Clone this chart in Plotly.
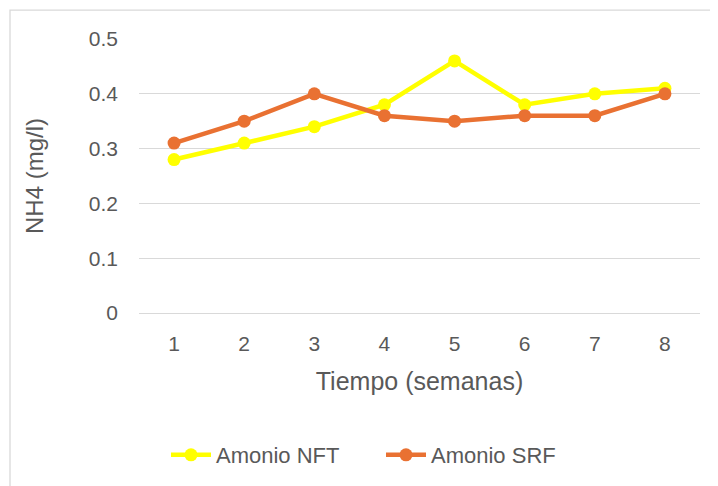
import plotly.graph_objects as go

semanas = ["1", "2", "3", "4", "5", "6", "7", "8"]
amonio_nft = [0.28, 0.31, 0.34, 0.38, 0.46, 0.38, 0.40, 0.41]
amonio_srf = [0.31, 0.35, 0.40, 0.36, 0.35, 0.36, 0.36, 0.40]
y_ticks = [0, 0.1, 0.2, 0.3, 0.4, 0.5]
y_tick_text = ["0", "0.1", "0.2", "0.3", "0.4", "0.5"]

# page body has an 8px margin, so the figure is 8px smaller and offset
W, H = 710, 478
L, R, T, B = 131, 18, 31, 172
pw, ph = W - L - R, H - T - B

fig = go.Figure()
fig.add_trace(go.Scatter(x=semanas, y=amonio_nft, name="Amonio NFT", mode="lines+markers",
                         line=dict(color="#FFFF00", width=4.5),
                         marker=dict(color="#FFFF00", size=13)))
fig.add_trace(go.Scatter(x=semanas, y=amonio_srf, name="Amonio SRF", mode="lines+markers",
                         line=dict(color="#E97132", width=4.5),
                         marker=dict(color="#E97132", size=13)))

font_color = "#595959"
fig.update_layout(
    width=W, height=H,
    margin=dict(l=L, r=R, t=T, b=B),
    paper_bgcolor="white", plot_bgcolor="white",
    font=dict(family="Liberation Sans, Arial, sans-serif", size=21, color=font_color),
    showlegend=True,
    legend=dict(orientation="h", x=(373 - L) / pw, xanchor="center",
                y=-(447 - (T + ph)) / ph, yanchor="middle",
                font=dict(size=22, color=font_color), itemwidth=40,
                entrywidth=160, entrywidthmode="pixels",
                bgcolor="rgba(0,0,0,0)"),
    xaxis=dict(type="category", range=[-0.5, 7.5], showgrid=False, zeroline=False,
               showline=False, ticks="", ticklabelstandoff=16,
               tickfont=dict(size=21),
               title=dict(text="Tiempo (semanas)", standoff=18, font=dict(size=25, color=font_color))),
    yaxis=dict(range=[0, 0.5], tickvals=y_ticks, ticktext=y_tick_text,
               showgrid=True, gridcolor="#D9D9D9", gridwidth=1.3,
               zeroline=True, zerolinecolor="#D9D9D9", zerolinewidth=1.3,
               showline=False, ticks="", ticklabelstandoff=20,
               tickfont=dict(size=21),
               title=dict(text="NH4 (mg/l)", standoff=38, font=dict(size=24, color=font_color))),
    shapes=[dict(type="rect", xref="paper", yref="paper",
                 x0=(2 - L) / pw, x1=(W + 20 - L) / pw,
                 y0=-(H + 20 - T - ph) / ph, y1=1 + (T - 2) / ph,
                 line=dict(color="#D9D9D9", width=1.3), fillcolor="rgba(0,0,0,0)", layer="below")],
)

fig.write_html("out.html")
